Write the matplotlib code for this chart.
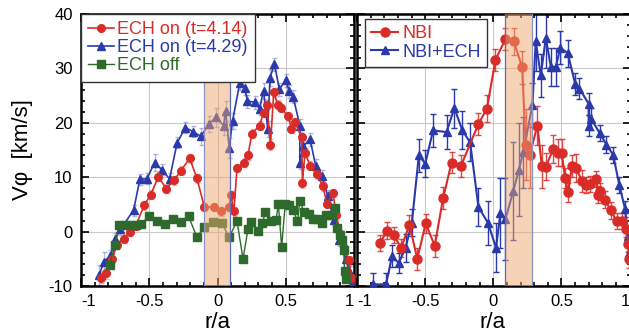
import matplotlib
matplotlib.use('Agg')
import matplotlib.pyplot as plt
from matplotlib.ticker import MultipleLocator

plt.rcParams['font.family'] = ['Liberation Sans', 'DejaVu Sans']
plt.rcParams['axes.unicode_minus'] = False

# ---------------- data: left panel ----------------
r_on414 = [-0.857, -0.815, -0.772, -0.736, -0.687, -0.641, -0.598, -0.538, -0.489, -0.433,
           -0.376, -0.32, -0.267, -0.204, -0.151, -0.096, -0.025, 0.023, 0.086, 0.098,
           0.12, 0.143, 0.194, 0.223, 0.252, 0.308, 0.337, 0.361, 0.388, 0.412,
           0.441, 0.465, 0.518, 0.542, 0.569, 0.617, 0.622, 0.641, 0.678, 0.73,
           0.772, 0.803, 0.846, 0.87, 0.9, 0.93, 0.96, 0.985]
v_on414 = [-8.5, -7.7, -5.0, -2.4, -1.3, -0.1, 1.1, 4.8, 6.8, 10.1,
           7.9, 9.4, 11.2, 13.5, 9.8, 4.5, 4.5, 3.7, 4.5, 6.7,
           3.7, 11.7, 12.7, 14.0, 18.0, 19.5, 21.8, 23.3, 16.0, 25.6,
           23.3, 22.7, 21.2, 18.9, 20.1, 17.3, 8.9, 14.5, 12.1, 10.5,
           8.3, 5.1, 7.1, 3.0, -0.5, -3.0, -5.3, -8.5]
e_on414 = [1.0, 1.0, 0.8, 0.8, 0.8, 0.8, 0.8, 0.8, 0.8, 0.8,
           0.8, 0.8, 0.8, 0.8, 0.8, 0.8, 0.8, 0.8, 0.8, 0.8,
           0.8, 0.8, 0.8, 0.8, 0.8, 0.8, 0.8, 0.8, 1.0, 0.8,
           0.8, 0.8, 0.8, 0.8, 0.8, 0.8, 0.8, 0.8, 0.8, 0.8,
           0.8, 0.8, 0.8, 0.8, 0.8, 0.8, 0.8, 0.8]

r_on429 = [-0.867, -0.832, -0.784, -0.748, -0.712, -0.615, -0.569, -0.518, -0.46, -0.409,
           -0.351, -0.296, -0.236, -0.18, -0.122, -0.062, -0.011, 0.045, 0.059, 0.086,
           0.11, 0.163, 0.2, 0.219, 0.272, 0.308, 0.337, 0.368, 0.385, 0.417,
           0.453, 0.501, 0.525, 0.554, 0.603, 0.603, 0.629, 0.678, 0.719, 0.767,
           0.808, 0.851, 0.893, 0.941, 0.972, 0.996]
v_on429 = [-8.0, -5.5, -4.5, -1.3, 0.4, 3.9, 9.6, 9.7, 12.7, 11.4,
           9.7, 16.3, 19.1, 18.4, 17.5, 19.8, 21.0, 19.5, 22.2, 15.4,
           20.3, 27.3, 26.4, 24.0, 23.8, 22.6, 25.9, 18.9, 28.3, 30.8,
           26.2, 27.8, 25.8, 24.8, 19.5, 12.7, 15.7, 17.0, 12.1, 10.2,
           6.5, 2.2, -1.5, -5.1, -7.6, -9.1]
e_on429 = [1.8, 1.8, 1.2, 1.0, 1.0, 1.0, 1.0, 1.0, 1.5, 1.0,
           1.0, 1.0, 1.0, 1.0, 1.5, 1.5, 1.8, 1.8, 1.8, 1.8,
           1.5, 1.2, 1.2, 1.2, 1.2, 1.2, 1.5, 1.5, 1.5, 1.2,
           1.2, 1.2, 1.2, 1.2, 1.2, 1.2, 1.2, 1.2, 1.2, 1.2,
           1.2, 1.2, 1.2, 1.5, 1.2, 1.2]

r_off = [-0.791, -0.75, -0.72, -0.68, -0.64, -0.6, -0.56, -0.501, -0.44, -0.385,
         -0.328, -0.267, -0.212, -0.151, -0.096, -0.03, 0.03, 0.086, 0.143, 0.187,
         0.223, 0.248, 0.296, 0.328, 0.351, 0.393, 0.429, 0.446, 0.47, 0.496,
         0.525, 0.554, 0.586, 0.603, 0.634, 0.67, 0.702, 0.73, 0.767, 0.798,
         0.832, 0.864, 0.875, 0.9, 0.912, 0.924, 0.931, 0.941]
v_off = [-6.1, -2.5, 1.3, 1.3, 1.3, 1.3, 1.4, 2.9, 1.9, 1.4,
         2.3, 1.7, 2.8, -1.0, 0.8, 1.8, 1.6, -1.0, 1.9, -5.0,
         0.4, 1.7, 0.1, 1.5, 3.6, 2.0, 2.2, 5.0, -2.8, 5.0,
         4.8, 4.0, 1.9, 5.6, 3.6, 3.3, 2.4, 2.3, 1.6, 3.0,
         3.0, 4.4, 0.7, -0.6, -1.5, -3.3, -7.3, -8.7]

# ---------------- data: right panel ----------------
r_nbi = [-0.83, -0.78, -0.731, -0.676, -0.615, -0.558, -0.496, -0.43, -0.368, -0.306,
         -0.237, -0.109, -0.047, 0.016, 0.089, 0.15, 0.212, 0.237, 0.267, 0.323,
         0.356, 0.385, 0.44, 0.472, 0.501, 0.526, 0.55, 0.576, 0.607, 0.65,
         0.681, 0.706, 0.756, 0.768, 0.78, 0.817, 0.862, 0.904, 0.941, 0.975,
         0.988, 0.998]
v_nbi = [-2.1, 0.2, -0.6, -3.0, 1.3, -5.0, 1.5, -2.6, 6.2, 12.7,
         12.1, 19.8, 22.6, 31.6, 35.4, 35.0, 30.2, 16.0, 14.0, 19.5,
         12.0, 11.9, 15.2, 14.5, 14.5, 9.9, 7.2, 12.1, 11.7, 9.3,
         8.6, 8.8, 9.7, 6.8, 7.4, 5.9, 3.9, 1.9, 1.9, 0.5,
         -2.2, -5.1]
e_nbi = [1.5, 1.6, 1.5, 1.6, 1.8, 2.0, 1.8, 2.0, 2.0, 2.0,
         2.0, 2.0, 2.5, 2.0, 2.0, 2.5, 3.0, 6.5, 6.0, 3.5,
         4.0, 2.5, 2.5, 2.5, 2.5, 1.8, 1.8, 2.0, 2.5, 2.0,
         1.5, 1.5, 1.5, 1.5, 1.5, 1.5, 1.5, 1.5, 1.5, 1.5,
         1.5, 1.5]

r_nbiech = [-0.879, -0.787, -0.743, -0.694, -0.644, -0.598, -0.546, -0.499, -0.442, -0.343,
            -0.286, -0.227, -0.17, -0.109, -0.039, 0.02, 0.052, 0.089, 0.146, 0.188,
            0.22, 0.287, 0.311, 0.348, 0.385, 0.422, 0.459, 0.491, 0.546, 0.6,
            0.632, 0.699, 0.699, 0.719, 0.78, 0.83, 0.879, 0.924, 0.966, 0.99,
            0.998]
v_nbiech = [-9.7, -9.7, -4.5, -5.8, -3.0, 1.6, 14.0, 12.5, 18.6, 18.3,
            22.7, 18.6, 16.4, 4.5, 1.6, -3.0, 3.4, 2.3, 7.4, 11.4,
            14.6, 23.3, 35.0, 28.7, 35.6, 30.3, 30.3, 33.8, 32.8, 27.2,
            26.3, 23.5, 19.5, 20.7, 18.1, 16.0, 14.1, 8.6, 4.2, -0.9,
            -4.0]
e_nbiech = [2.0, 2.0, 2.0, 1.8, 2.5, 2.5, 3.0, 2.5, 3.0, 3.2,
            3.6, 3.5, 3.5, 3.5, 4.0, 4.5, 6.5, 7.5, 9.0, 8.5,
            6.5, 4.0, 5.5, 4.0, 5.5, 3.5, 3.5, 3.0, 2.5, 2.0,
            2.0, 2.0, 2.0, 2.0, 1.5, 1.5, 1.5, 1.5, 1.5, 1.5,
            1.5]

# ECH deposition bands
band_left = (-0.1, 0.095)
band_right = (0.085, 0.285)

xticks = [-1, -0.5, 0, 0.5, 1]
xticklabels = ['-1', '-0.5', '0', '0.5', '1']
yticks = [-10, 0, 10, 20, 30, 40]
yticklabels = ['-10', '0', '10', '20', '30', '40']

RED = '#d92b27'
BLUE = '#2b39ab'
GREEN = '#2e6a2b'

fig = plt.figure(figsize=(6.29, 3.36), dpi=100)
ax1 = fig.add_axes([81 / 629, 50 / 336, 273 / 629, 272 / 336])
ax2 = fig.add_axes([357 / 629, 50 / 336, 274 / 629, 272 / 336])


def style(ax, xmax):
    ax.set_xlim(-1, xmax)
    ax.set_ylim(-10, 40)
    ax.set_xticks(xticks)
    ax.set_xticklabels(xticklabels)
    ax.set_yticks(yticks)
    ax.xaxis.set_minor_locator(MultipleLocator(0.1))
    ax.yaxis.set_minor_locator(MultipleLocator(2))
    ax.tick_params(which='both', direction='in', top=True, right=True, width=1.2,
                   labelsize=12, pad=6)
    ax.tick_params(which='major', length=6)
    ax.tick_params(which='minor', length=3)
    for s in ax.spines.values():
        s.set_linewidth(1.8)
    ax.grid(True, which='major', color='#c9c9c9', lw=0.8)
    ax.set_axisbelow(True)
    labs = ax.get_xticklabels()
    labs[0].set_horizontalalignment('left')
    labs[-1].set_horizontalalignment('right')


style(ax1, 1.0)
style(ax2, 1.01)
ax1.set_yticklabels(yticklabels)
ax2.set_yticklabels([])

# left panel
ax1.errorbar(r_on429, v_on429, yerr=e_on429, fmt='none', ecolor=BLUE, alpha=0.35,
             elinewidth=0.9, capsize=1.8, zorder=2)
ax1.errorbar(r_on414, v_on414, yerr=e_on414, fmt='none', ecolor=RED, alpha=0.35,
             elinewidth=0.9, capsize=1.8, zorder=2)
hb, = ax1.plot(r_on429, v_on429, '-^', color=BLUE, lw=1.2, ms=5.2, zorder=3)
hr, = ax1.plot(r_on414, v_on414, '-o', color=RED, lw=1.2, ms=5.5, zorder=3)
hg, = ax1.plot(r_off, v_off, '-s', color=GREEN, lw=1.0, ms=5.2, zorder=4)

ax1.axvspan(*band_left, facecolor='#eea66f', alpha=0.5, lw=0, zorder=5)
for xb, c in zip(band_left, ['#8a93c4', '#5a6cc0']):
    ax1.axvline(xb, color=c, lw=0.9, zorder=5)

leg1 = ax1.legend([hr, hb, hg], ['ECH on (t=4.14)', 'ECH on (t=4.29)', 'ECH off'],
                  loc='upper left', bbox_to_anchor=(0, 1), borderaxespad=0,
                  fontsize=13, handlelength=1.4, handletextpad=0.2, labelspacing=0.06,
                  borderpad=0.4, fancybox=False, edgecolor='#333333', framealpha=1)
leg1.get_frame().set_linewidth(1.0)
leg1.set_zorder(10)
for t, c in zip(leg1.get_texts(), [RED, BLUE, GREEN]):
    t.set_color(c)

# right panel
ax2.errorbar(r_nbiech, v_nbiech, yerr=e_nbiech, fmt='none', ecolor=BLUE,
             elinewidth=1.0, capsize=2.5, zorder=2)
ax2.errorbar(r_nbi, v_nbi, yerr=e_nbi, fmt='none', ecolor=RED, alpha=0.85,
             elinewidth=1.0, capsize=2.5, zorder=2)
hb2, = ax2.plot(r_nbiech, v_nbiech, '-^', color=BLUE, lw=1.5, ms=6, zorder=3)
hr2, = ax2.plot(r_nbi, v_nbi, '-o', color=RED, lw=1.5, ms=6.5, zorder=3)

ax2.axvspan(*band_right, facecolor='#eea66f', alpha=0.5, lw=0, zorder=5)
for xb, c in zip(band_right, ['#5a6cc0', '#8a93c4']):
    ax2.axvline(xb, color=c, lw=0.9, zorder=5)

leg2 = ax2.legend([hr2, hb2], ['NBI', 'NBI+ECH'], loc='upper left',
                  bbox_to_anchor=(8 / 274, 1 - 5 / 272), borderaxespad=0,
                  fontsize=13, handlelength=1.5, handletextpad=0.2, labelspacing=0.08,
                  borderpad=0.35, fancybox=False, edgecolor='#333333', framealpha=1)
leg2.get_frame().set_linewidth(1.0)
leg2.set_zorder(10)
for t, c in zip(leg2.get_texts(), [RED, BLUE]):
    t.set_color(c)

ax1.set_ylabel('V\u03c6  [km/s]', fontsize=16)
ax1.yaxis.set_label_coords(-0.176, 0.5)
ax1.set_xlabel('r/a', fontsize=16)
ax1.xaxis.set_label_coords(0.5, -0.095)
ax2.set_xlabel('r/a', fontsize=16)
ax2.xaxis.set_label_coords(0.496, -0.095)

fig.savefig('out.png', dpi=100)
